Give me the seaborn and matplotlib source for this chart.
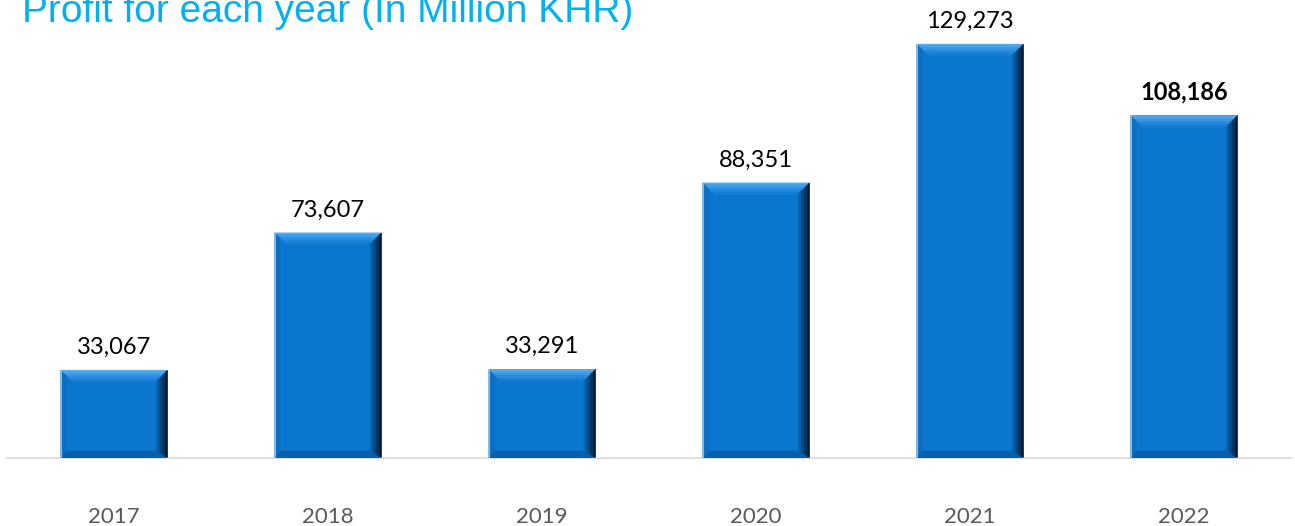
import matplotlib
matplotlib.use("Agg")
import matplotlib.pyplot as plt
import seaborn as sns
import pandas as pd
from matplotlib.patches import Polygon

years = ["2017", "2018", "2019", "2020", "2021", "2022"]
profits = [33067, 73607, 33291, 88351, 129273, 108186]
labels = ["33,067", "73,607", "33,291", "88,351", "129,273", "108,186"]
bold_flags = [False, False, False, False, False, True]
title_text = "Profit for each year (In Million KHR)"

sns.set_theme(style="white")
plt.rcParams["font.family"] = ["Lato", "DejaVu Sans"]

W, H = 1295, 526
fig = plt.figure(figsize=(W / 100, H / 100), dpi=100)
ax = fig.add_axes([7 / W, 1 - 458 / H, 1284 / W, 458 / H])

df = pd.DataFrame({"year": years, "profit": profits})
sns.barplot(data=df, x="year", y="profit", color="#0A76CE", saturation=1,
            width=0.5, ax=ax, edgecolor="none")
ax.set_xlim(-0.5, 5.5)
ax.set_ylim(7080, 142200)

fig.canvas.draw()
bbox = ax.get_window_extent()
dx = (ax.get_xlim()[1] - ax.get_xlim()[0]) / bbox.width
dy = (ax.get_ylim()[1] - ax.get_ylim()[0]) / bbox.height
bev = 12
for p in ax.patches:
    x0, y0 = p.get_x(), ax.get_ylim()[0]
    x1, y1 = p.get_x() + p.get_width(), p.get_height()
    bx, by = bev * dx, bev * dy
    # top bevel gradient (light)
    tcols = ["#5AAEF0", "#4AA4EC", "#3A99E6", "#2C8EDF", "#2085D8", "#167DD3"]
    n = len(tcols)
    for i in range(n):
        ya = y1 - i * by / n
        yb = y1 - (i + 1) * by / n
        ax.add_patch(Polygon([[x0 + i * bx / n, ya], [x1 - i * bx / n, ya],
                              [x1 - (i + 1) * bx / n, yb], [x0 + (i + 1) * bx / n, yb]],
                             closed=True, facecolor=tcols[i], edgecolor="none", zorder=3))
    # left bevel
    ax.add_patch(Polygon([[x0, y1], [x0 + 0.5 * bx, y1 - 0.5 * by], [x0 + 0.5 * bx, y0 + 0.5 * by], [x0, y0]],
                         closed=True, facecolor="#0B6EC2", edgecolor="none", zorder=3))
    # bottom bevel
    ax.add_patch(Polygon([[x0, y0], [x0 + 0.5 * bx, y0 + 0.6 * by], [x1 - bx, y0 + 0.6 * by], [x1, y0]],
                         closed=True, facecolor="#0860AA", edgecolor="none", zorder=3))
    # right bevel gradient (dark)
    cols = ["#0A68B6", "#095CA2", "#08508E", "#07447A", "#063865", "#052D51", "#04223D", "#03182B"]
    n = len(cols)
    for i in range(n):
        xa = x1 - bx + i * bx / n
        xb = x1 - bx + (i + 1) * bx / n
        ta = y1 - by + (i * by / n)
        tb = y1 - by + ((i + 1) * by / n)
        ba = y0 + 0.6 * by * (1 - i / n)
        bb = y0 + 0.6 * by * (1 - (i + 1) / n)
        ax.add_patch(Polygon([[xa, ta], [xb, tb], [xb, bb], [xa, ba]],
                             closed=True, facecolor=cols[i], edgecolor="none", zorder=3))
    ax.plot([x0, x0], [y0, y1], color="#7DBDF0", lw=0.8, zorder=4)

for i, (v, lab, b) in enumerate(zip(profits, labels, bold_flags)):
    ax.text(i, v + 12 * dy, lab, ha="center", va="bottom", fontsize=17,
            fontweight="bold" if b else "normal", color="black", zorder=5)

for s in ["top", "right", "left"]:
    ax.spines[s].set_visible(False)
ax.spines["bottom"].set_color("#D9D9D9")
ax.spines["bottom"].set_linewidth(1.2)
ax.set_yticks([])
ax.set_xlabel("")
ax.set_ylabel("")
ax.tick_params(axis="x", length=0, pad=35, labelsize=16, labelcolor="#595959")

fig.text(22 / W, 1 - 22 / H, title_text, fontsize=28, color="#00B0F0",
         family=["Liberation Sans", "DejaVu Sans"], ha="left", va="baseline")

fig.savefig("out.png", dpi=100)
